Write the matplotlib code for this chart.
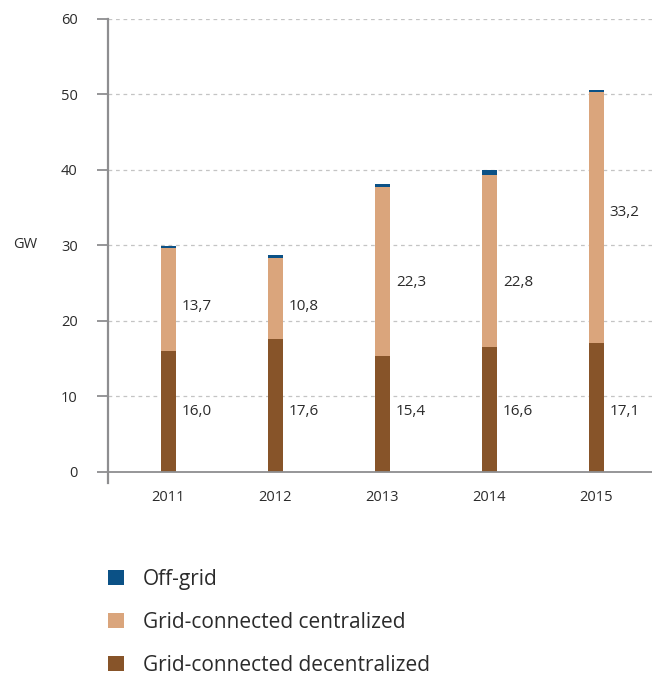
import numpy as np
import matplotlib.pyplot as plt

plt.rcParams['font.family'] = ['Open Sans', 'DejaVu Sans']

years = ['2011', '2012', '2013', '2014', '2015']
decentralized = [16.0, 17.6, 15.4, 16.6, 17.1]
centralized = [13.7, 10.8, 22.3, 22.8, 33.2]
off_grid = [0.2, 0.3, 0.5, 0.6, 0.3]
series_names = ['Off-grid', 'Grid-connected centralized', 'Grid-connected decentralized']

# heights at which the segment values are written
low_label_y = [8.0, 8.0, 8.0, 8.0, 8.0]
high_label_y = [21.9, 21.9, 25.1, 25.1, 34.4]

c_dec = '#875429'
c_cen = '#DAA57C'
c_off = '#0B5186'
c_axis = '#8E8E90'
c_text = '#2B2B2B'

fig = plt.figure(figsize=(6.52, 6.77), dpi=100)
ax = fig.add_axes([107.5 / 652, 1 - 483 / 677, 1 - 107.5 / 652, 464 / 677])

x = np.arange(len(years))
w = 0.14
dec = np.array(decentralized)
cen = np.array(centralized)
off = np.array(off_grid)

b1 = ax.bar(x, dec, w, color=c_dec, zorder=3)
b2 = ax.bar(x, cen, w, bottom=dec, color=c_cen, zorder=3)
b3 = ax.bar(x, off, w, bottom=dec + cen, color=c_off, zorder=3)

for i in range(len(years)):
    ax.text(x[i] + w / 2 + 0.055, low_label_y[i], f'{decentralized[i]:.1f}'.replace('.', ','),
            ha='left', va='center', fontsize=11, color=c_text)
    ax.text(x[i] + w / 2 + 0.055, high_label_y[i], f'{centralized[i]:.1f}'.replace('.', ','),
            ha='left', va='center', fontsize=11, color=c_text)

ax.set_xlim(-0.57, 4.52)
ax.set_ylim(-1.46, 60)
ax.set_yticks(range(0, 61, 10))
ax.set_xticks(x)
ax.set_xticklabels(years)

for gy in range(10, 61, 10):
    ax.axhline(gy, color='#C4C4C4', lw=0.9, ls=(0, (3, 3)), zorder=1)
ax.axhline(0, color=c_axis, lw=1.3, zorder=4)

for s in ['top', 'right', 'bottom']:
    ax.spines[s].set_visible(False)
ax.spines['left'].set_color(c_axis)
ax.spines['left'].set_linewidth(1.6)

ax.tick_params(axis='y', length=8, width=1.3, color=c_axis, pad=13.5,
               labelsize=10.5, labelcolor=c_text)
ax.tick_params(axis='x', length=0, pad=5, labelsize=10.5, labelcolor=c_text)

fig.text(25 / 652, 1 - 245 / 677, 'GW', ha='center', va='center',
         fontsize=10.5, color=c_text)

fig.legend([b3, b2, b1], series_names, loc='upper left',
           bbox_to_anchor=(108 / 652, 1 - 569 / 677), frameon=False,
           fontsize=15, handlelength=0.76, handleheight=0.76,
           handletextpad=0.9, labelspacing=1.05, borderpad=0, borderaxespad=0,
           labelcolor=c_text)

fig.savefig('out.png', dpi=100)
